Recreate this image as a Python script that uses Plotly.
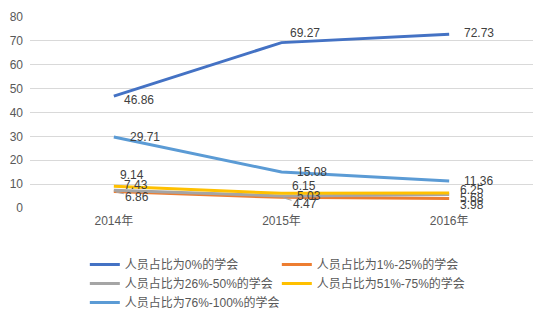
import plotly.graph_objects as go

years = ["2014年", "2015年", "2016年"]
series_names = [
    "人员占比为0%的学会",
    "人员占比为1%-25%的学会",
    "人员占比为26%-50%的学会",
    "人员占比为51%-75%的学会",
    "人员占比为76%-100%的学会",
]
share_0 = [46.86, 69.27, 72.73]
share_1_25 = [6.86, 4.47, 3.98]
share_26_50 = [7.43, 5.03, 5.68]
share_51_75 = [9.14, 6.15, 6.25]
share_76_100 = [29.71, 15.08, 11.36]
y_ticks = [0, 10, 20, 30, 40, 50, 60, 70, 80]

colors = ["#4472C4", "#ED7D31", "#A5A5A5", "#FFC000", "#5B9BD5"]
values = [share_0, share_1_25, share_26_50, share_51_75, share_76_100]

FONT = "Liberation Sans, Noto Sans CJK SC, sans-serif"

fig = go.Figure()
for name, vals, col in zip(series_names, values, colors):
    fig.add_trace(go.Scatter(
        x=years, y=vals, name=name, mode="lines",
        line=dict(color=col, width=3),
        hoverinfo="skip",
    ))

# data label offsets (pixels) per series and year: (dx to left edge, dy up)
label_offsets = {
    0: [(8, -4), (6, 9.5), (13, 1)],
    1: [None, None, (9, -6)],
    2: [(8, 5.5), (13, 0), (9, -4)],
    3: [(4, 11), (8, 7), (9, 3.5)],
    4: [(14, 0), (13, 0), (13, 0)],
}
# labels tied back to their point with a short leader line: (ax, ay) of text centre
leader_offsets = {1: [(23.5, 5), (23.5, 7), None]}

annotations = []
for s, vals in enumerate(values):
    for i, v in enumerate(vals):
        off = label_offsets[s][i]
        if off is not None:
            annotations.append(dict(
                x=years[i], y=v, xref="x", yref="y", text=f"{v:.2f}",
                showarrow=False, xanchor="left", yanchor="middle",
                xshift=off[0], yshift=off[1],
                font=dict(family=FONT, size=12, color="#404040"),
            ))
        else:
            ax, ay = leader_offsets[s][i]
            annotations.append(dict(
                x=years[i], y=v, xref="x", yref="y", text=f"{v:.2f}",
                showarrow=True, ax=ax, ay=ay, axref="pixel", ayref="pixel",
                arrowhead=0, arrowwidth=1, arrowcolor="#A6A6A6", standoff=2,
                font=dict(family=FONT, size=12, color="#404040"),
            ))

fig.update_layout(
    width=554, height=324,
    margin=dict(l=29, r=21, t=10, b=116),
    paper_bgcolor="white", plot_bgcolor="white",
    font=dict(family=FONT, size=12, color="#595959"),
    showlegend=True,
    legend=dict(
        orientation="h", xref="paper", x=0.109, xanchor="left",
        yref="container", y=1 - 250 / 324, yanchor="top",
        entrywidth=147, entrywidthmode="pixels",
        font=dict(family=FONT, size=12, color="#595959"),
        itemwidth=30, tracegroupgap=0,
    ),
    annotations=annotations,
)
fig.update_xaxes(
    type="category", range=[-0.5, 2.5], showgrid=False, showline=False,
    ticks="", tickfont=dict(size=12, color="#595959"), zeroline=False,
    ticklabelstandoff=4,
)
fig.update_yaxes(
    range=[0, 80], tickvals=y_ticks, showgrid=True, gridcolor="#D9D9D9",
    gridwidth=1, zeroline=False, showline=False, ticks="",
    tickfont=dict(size=12, color="#595959"), ticklabelstandoff=6,
)

fig.write_html("out.html")
